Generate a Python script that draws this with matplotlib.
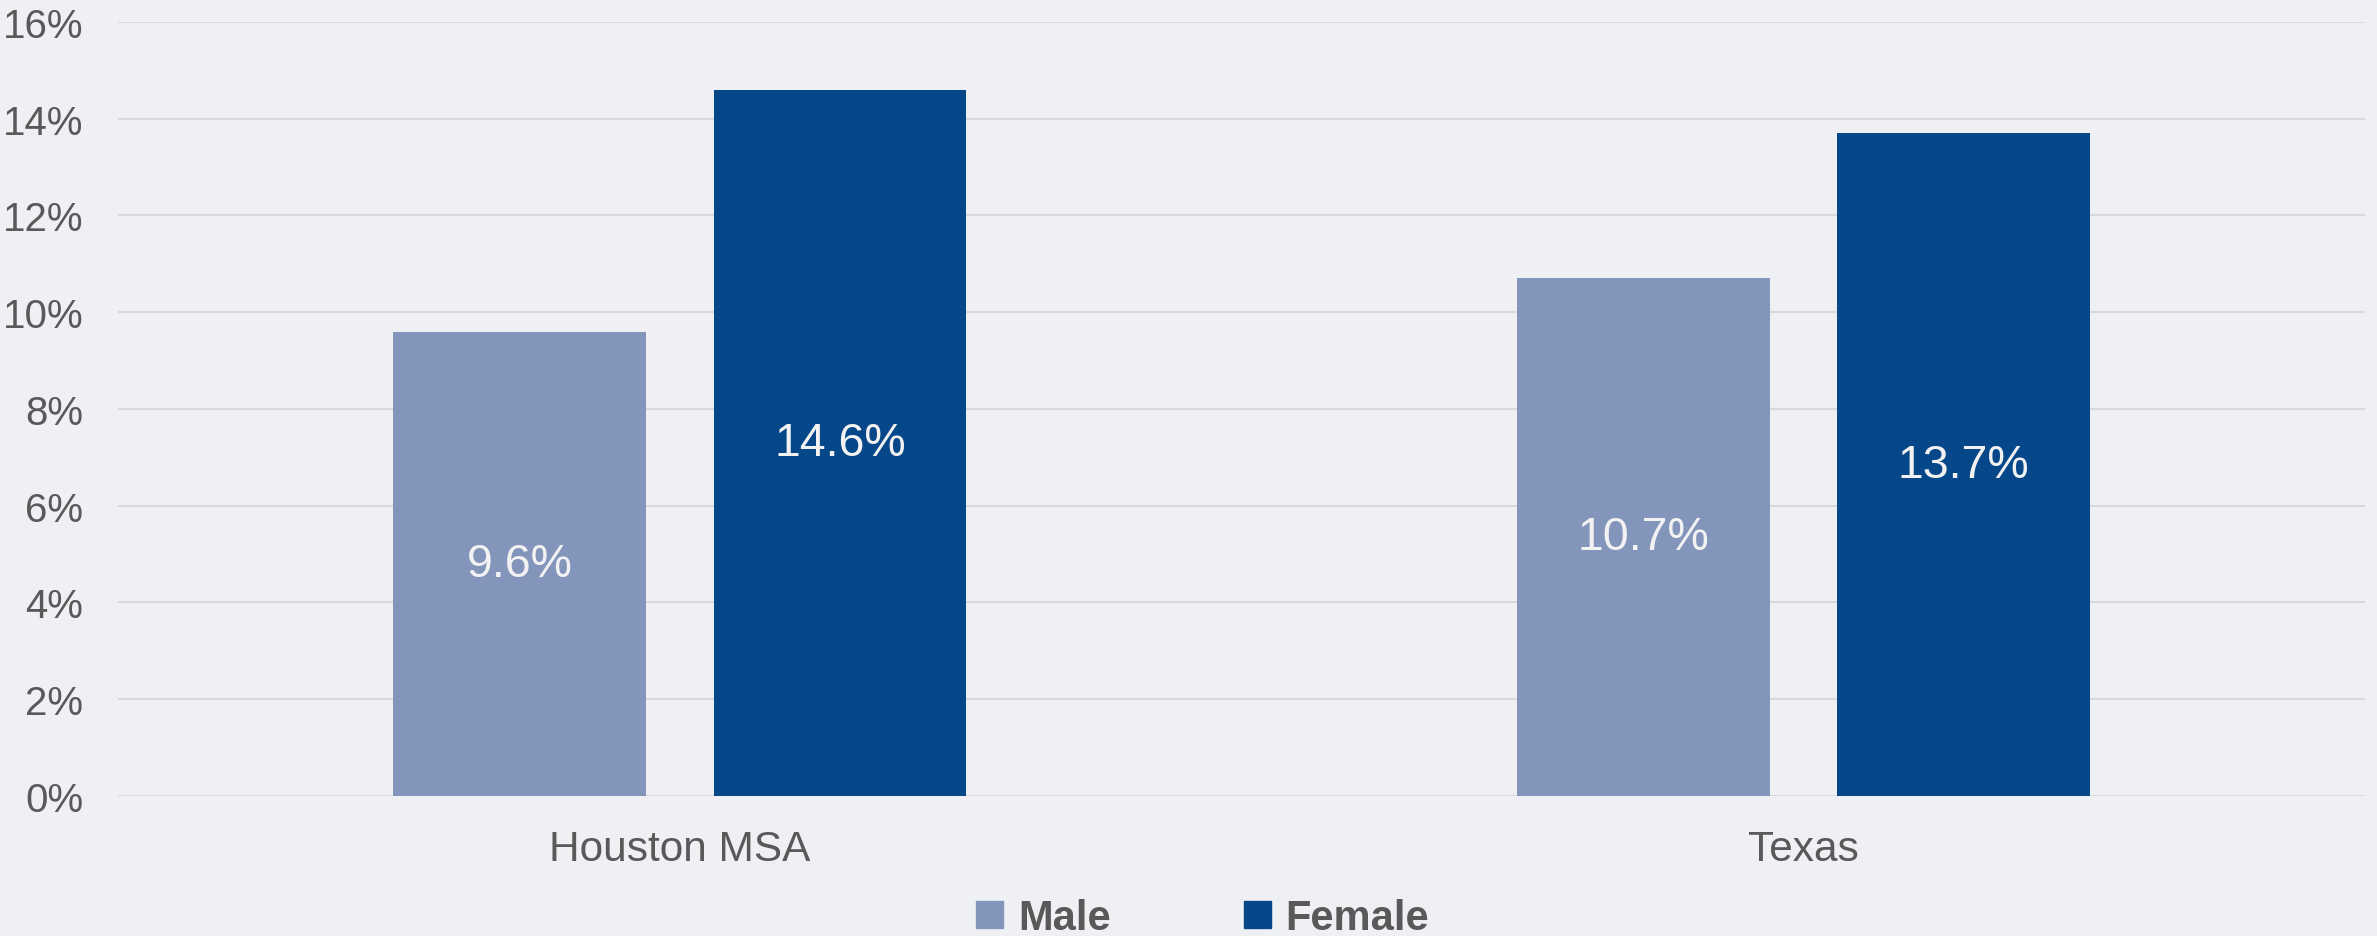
import numpy as np
import matplotlib.pyplot as plt
from matplotlib.patches import Patch

categories = ['Houston MSA', 'Texas']
male = [9.6, 10.7]
female = [14.6, 13.7]
yticks = [0, 2, 4, 6, 8, 10, 12, 14, 16]

bg = '#EEF0F4'
c_male = '#8495BB'
c_female = '#06478A'
txt = '#595959'

plt.rcParams['font.family'] = ['Liberation Sans', 'DejaVu Sans']

fig = plt.figure(figsize=(23.77, 9.37), dpi=100, facecolor=bg)
ax = fig.add_axes([0.0497, 0.1494, 0.9453, 0.8261], facecolor=bg)

x = np.arange(len(categories))
w = 0.225
off = 0.1425
b1 = ax.bar(x - off, male, w, color=c_male, zorder=3)
b2 = ax.bar(x + off, female, w, color=c_female, zorder=3)

for bars, vals in ((b1, male), (b2, female)):
    for b, v in zip(bars, vals):
        ax.text(b.get_x() + b.get_width() / 2, v / 2, f'{v:.1f}%',
                ha='center', va='center', color='#F2F2F2', fontsize=33.5)

ax.set_xlim(-0.5, 1.5)
ax.set_ylim(0, 16)
ax.set_yticks(yticks)
ax.set_yticklabels([f'{t}%' for t in yticks])
ax.set_xticks(x)
ax.set_xticklabels(categories)
ax.tick_params(axis='both', length=0, labelcolor=txt)
ax.tick_params(axis='y', labelsize=29, pad=25)
ax.tick_params(axis='x', labelsize=30.5, pad=24)
ax.grid(axis='y', color='#D9D9D9', linewidth=1.5, zorder=0)
ax.set_axisbelow(True)
for s in ax.spines.values():
    s.set_visible(False)

handles = [Patch(color=c_male, label='Male'), Patch(color=c_female, label='Female')]
leg = fig.legend(handles=handles, loc='center', bbox_to_anchor=(0.506, 0.019), ncol=2,
                 frameon=False, handlelength=0.65, handleheight=0.65, handletextpad=0.35,
                 columnspacing=3.2, prop={'size': 30, 'weight': 'bold'})
for t in leg.get_texts():
    t.set_color(txt)

fig.savefig('out.png', dpi=100, facecolor=bg)
